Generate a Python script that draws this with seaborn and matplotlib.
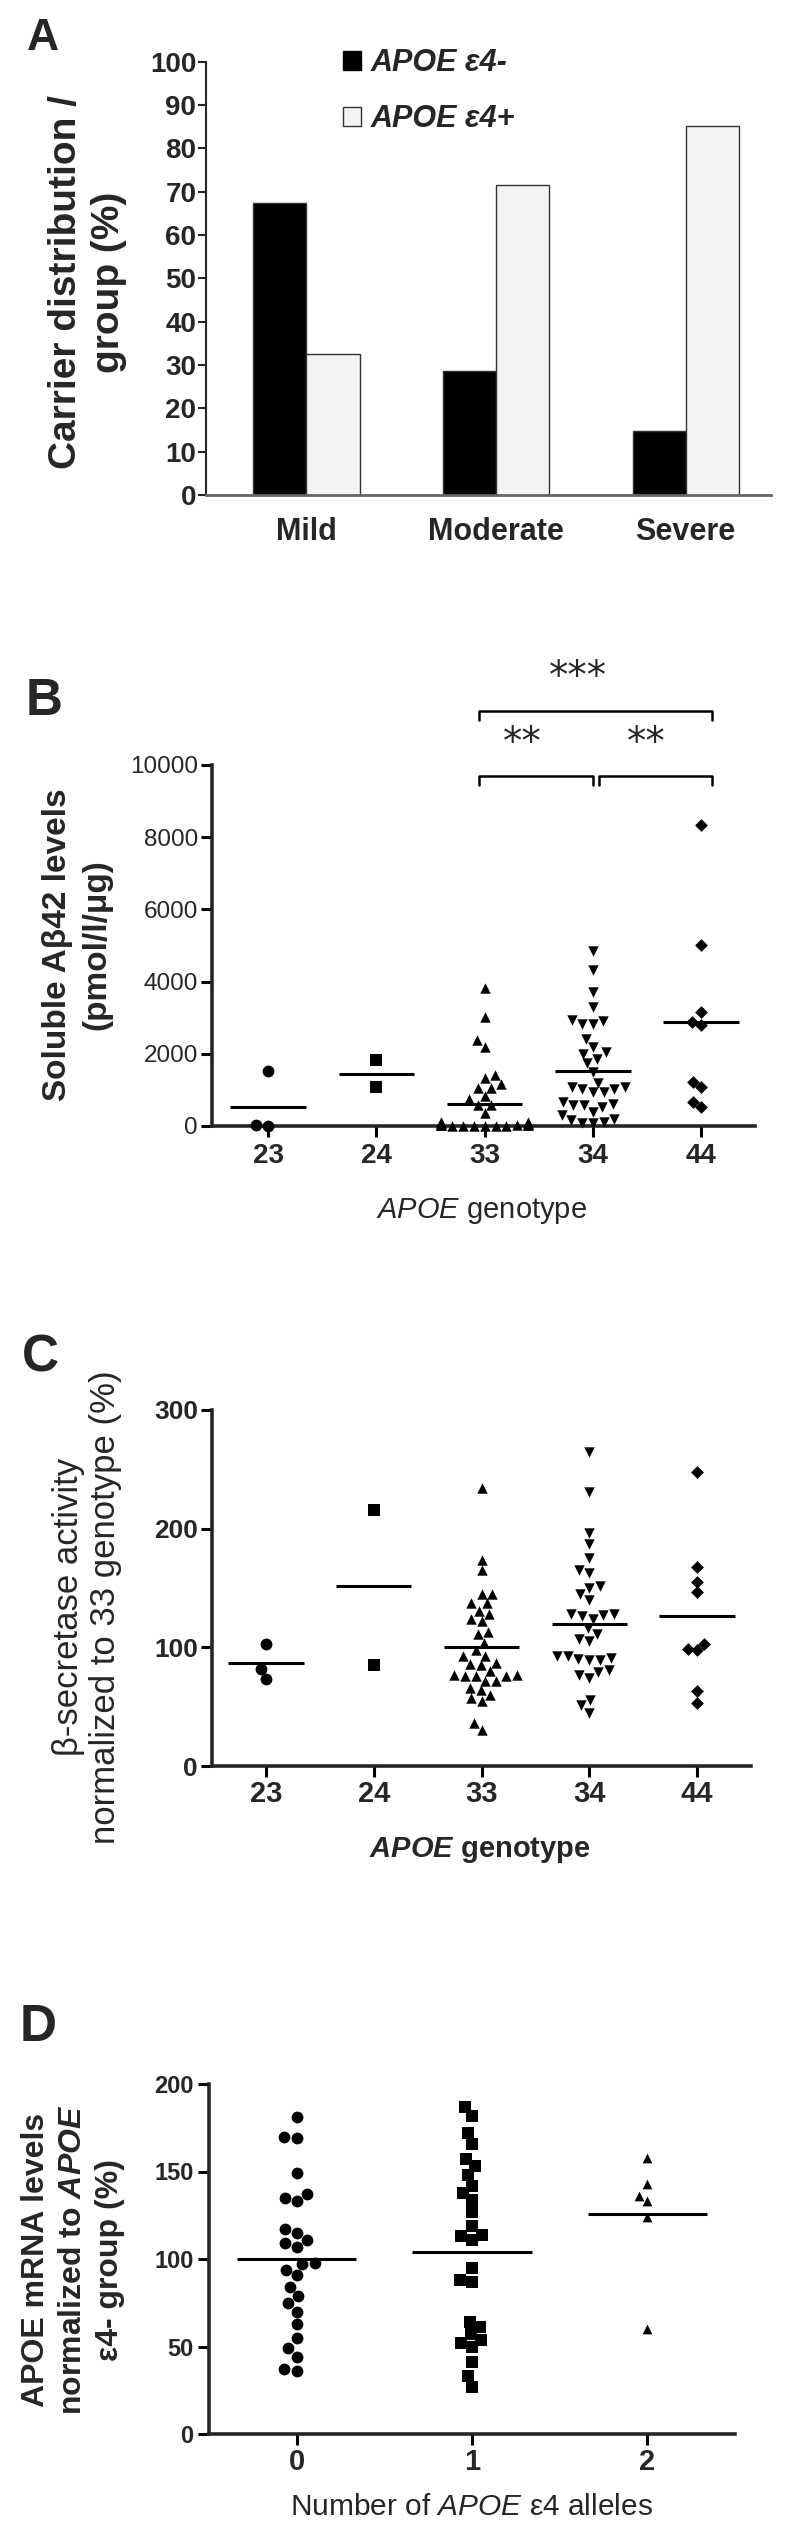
import numpy as np
import pandas as pd
import seaborn as sns
import matplotlib.pyplot as plt
from matplotlib.patches import Patch

sns.set_style('ticks')
plt.rcParams['font.family'] = ['Liberation Sans', 'DejaVu Sans']
plt.rcParams['mathtext.fontset'] = 'custom'
plt.rcParams['mathtext.rm'] = 'Liberation Sans'
plt.rcParams['mathtext.it'] = 'Liberation Sans:italic'
plt.rcParams['mathtext.bf'] = 'Liberation Sans:bold'
plt.rcParams['mathtext.bfit'] = 'Liberation Sans:italic:bold'

# --- data ---
# A: carrier distribution per severity group (%)
severity = ['Mild', 'Moderate', 'Severe']
carrier_neg = [67.4, 28.6, 14.8]
carrier_pos = [32.6, 71.4, 85.2]
carrier_labels = ['APOE ε4-', 'APOE ε4+']

# B: soluble Abeta42 per APOE genotype
genotypes = ['23', '24', '33', '34', '44']
abeta_23 = [1520, 0, 40]
abeta_24 = [1815, 1090]
abeta_33 = [3810, 3010, 2390, 2180, 1420, 1325, 1170, 1050, 1060, 820, 755, 590, 590, 360,
            120, 100, 90, 80, 70, 60, 60, 50, 40, 40, 30, 30, 20, 20, 10, 10, 0, 0, 0, 0]
abeta_34 = [4850, 4315, 3700, 3285, 2935, 2825, 2825, 2915, 2410, 2180, 2000, 2040, 1860, 1740,
            1490, 1075, 1030, 1190, 1030, 1075, 940, 940, 570, 570, 525, 660, 615, 385, 295,
            110, 200, 155, 80, 80]
abeta_44 = [8350, 5000, 3170, 2800, 2870, 1220, 1080, 670, 520]
abeta_mean = [535, 1450, 610, 1515, 2870]

# significance brackets in B
sig_left = [1.95, 1.95, 3.06]
sig_right = [4.1, 3.0, 4.1]
sig_y = [11500, 9700, 9700]
sig_text = ['***', '**', '**']
sig_text_x = [2.86, 2.35, 3.49]
sig_text_y = [12440, 10610, 10610]

# C: beta-secretase activity per genotype (%)
bsec_23 = [103, 82, 73]
bsec_24 = [216, 85]
bsec_33 = [234, 174, 165, 145, 145, 137, 137, 131, 128, 124, 122, 111, 113, 104, 98, 93, 93,
           87, 86, 85, 77, 77, 76, 80, 76, 76, 72, 72, 64, 66, 57, 55, 60, 30, 36]
bsec_34 = [265, 231, 196, 187, 175, 165, 163, 152, 150, 145, 140, 128, 127, 128, 126, 124, 116,
           111, 107, 105, 93, 91, 90, 89, 93, 89, 81, 79, 77, 74, 56, 51, 45]
bsec_44 = [248, 168, 155, 147, 99, 98, 103, 63, 53]
bsec_mean = [87, 152, 100, 120, 126]

# D: APOE mRNA per number of e4 alleles (%)
alleles = ['0', '1', '2']
mrna_0 = [181, 170, 169, 149, 135, 133, 137, 115, 117, 109, 107, 111, 97, 94, 98, 91, 84, 79,
          75, 70, 63, 55, 49, 44, 36, 37]
mrna_1 = [187, 182, 172, 166, 157, 153, 148, 142, 138, 134, 127, 119, 113, 111, 114, 95, 87,
          88, 64, 61, 57, 54, 50, 52, 41, 33, 27]
mrna_2 = [158, 143, 136, 133, 124, 60]
mrna_mean = [100, 104, 126]

W, H = 787, 2531
fig = plt.figure(figsize=(W / 100, H / 100), dpi=100)


def add_ax(left, right, top, bottom):
    return fig.add_axes([left / W, 1 - bottom / H, (right - left) / W, (bottom - top) / H])


def fig_text(x, y, s, **kw):
    fig.text(x / W, 1 - y / H, s, **kw)


def dot_panel(ax, cats, groups, markers, sizes, means, half=0.35):
    for c, vals, m, s in zip(cats, groups, markers, sizes):
        sns.swarmplot(x=[c] * len(vals), y=vals, order=cats, marker=m, size=s,
                      color='black', linewidth=0, warn_thresh=1, ax=ax, clip_on=False)
    pos = np.arange(len(cats))
    ax.hlines(means, pos - half, pos + half, color='black', lw=2.2, zorder=3)
    sns.despine(ax=ax)
    for side in ['left', 'bottom']:
        ax.spines[side].set_linewidth(2.6)
    ax.tick_params(axis='both', width=2.2, length=8, color='black')
    ax.set_xlabel('')
    ax.set_ylabel('')


# ---------------- A ----------------
axA = add_ax(206, 771, 61.5, 495)
dfA = pd.DataFrame({'group': severity * 2,
                    'pct': carrier_neg + carrier_pos,
                    'carrier': [carrier_labels[0]] * 3 + [carrier_labels[1]] * 3})
sns.barplot(data=dfA, x='group', y='pct', hue='carrier', hue_order=carrier_labels,
            palette=['black', '#f3f3f3'], width=0.56, edgecolor='#333333', linewidth=1,
            legend=False, ax=axA)
axA.set_ylim(0, 100)
axA.set_yticks(range(0, 101, 10))
axA.set_xlim(-0.53, 2.45)
sns.despine(ax=axA)
axA.spines['left'].set_linewidth(1.5)
axA.spines['bottom'].set_linewidth(2)
axA.spines['bottom'].set_color('#666666')
axA.tick_params(axis='y', length=6, width=1.5, pad=1, labelsize=20)
axA.tick_params(axis='x', length=0, pad=16, labelsize=22)
for t in axA.get_yticklabels() + axA.get_xticklabels():
    t.set_fontweight('bold')
axA.set_xlabel('')
axA.set_ylabel('')
handles = [Patch(facecolor='black', edgecolor='black'),
           Patch(facecolor='#f3f3f3', edgecolor='#333333')]
axA.legend(handles, carrier_labels, loc='upper left', bbox_to_anchor=(0.2425, 1.03),
           frameon=False, borderpad=0, borderaxespad=0, handlelength=0.6, handleheight=0.6,
           labelspacing=0.85, handletextpad=0.3,
           prop={'weight': 'bold', 'style': 'italic', 'size': 22})
fig_text(88, 282, 'Carrier distribution /\ngroup (%)', rotation=90, ha='center',
         va='center', fontsize=28, fontweight='bold', linespacing=1.25)
fig_text(27, 50, 'A', ha='left', va='baseline', fontsize=32, fontweight='bold')

# ---------------- B ----------------
axB = add_ax(212, 755, 765, 1126)
dot_panel(axB, genotypes, [abeta_23, abeta_24, abeta_33, abeta_34, abeta_44],
          ['o', 's', '^', 'v', 'D'], [8.5, 8, 7.5, 7.5, 6.5], abeta_mean)
axB.set_ylim(0, 10000)
axB.set_yticks(range(0, 10001, 2000))
axB.set_xlim(-0.52, 4.5)
axB.tick_params(axis='y', labelsize=17.5, pad=2)
axB.tick_params(axis='x', labelsize=20, pad=4)
for t in axB.get_xticklabels():
    t.set_fontweight('bold')
for l, r, y in zip(sig_left, sig_right, sig_y):
    axB.plot([l, l, r, r], [y - 250, y, y, y - 250], color='black', lw=1.8, clip_on=False)
for tx, ty, s in zip(sig_text_x, sig_text_y, sig_text):
    axB.text(tx, ty, s, ha='center', va='center', fontsize=28, family='DejaVu Sans',
             clip_on=False)
fig_text(77, 945, 'Soluble Aβ42 levels\n(pmol/l/μg)', rotation=90, ha='center', va='center',
         fontsize=24, fontweight='bold', linespacing=1.35)
fig_text(482, 1211, r'$\mathit{APOE}$ genotype', ha='center', va='center', fontsize=21)
fig_text(26, 715, 'B', ha='left', va='baseline', fontsize=37, fontweight='bold')

# ---------------- C ----------------
axC = add_ax(212, 751, 1410, 1766)
dot_panel(axC, genotypes, [bsec_23, bsec_24, bsec_33, bsec_34, bsec_44],
          ['o', 's', '^', 'v', 'D'], [8.5, 8, 7.5, 7.5, 6.5], bsec_mean)
axC.set_ylim(0, 300)
axC.set_yticks([0, 100, 200, 300])
axC.set_xlim(-0.5, 4.5)
axC.tick_params(axis='y', labelsize=19, pad=2)
axC.tick_params(axis='x', labelsize=21, pad=2)
for t in axC.get_yticklabels() + axC.get_xticklabels():
    t.set_fontweight('bold')
fig_text(87, 1607, 'β-secretase activity\nnormalized to 33 genotype (%)', rotation=90,
         ha='center', va='center', fontsize=25, linespacing=1.12)
fig_text(480, 1850, r'$\mathbfit{APOE}$ genotype', ha='center', va='center', fontsize=21,
         fontweight='bold')
fig_text(22, 1372, 'C', ha='left', va='baseline', fontsize=37, fontweight='bold')

# ---------------- D ----------------
axD = add_ax(209, 735, 2084, 2434)
dot_panel(axD, alleles, [mrna_0, mrna_1, mrna_2], ['o', 's', '^'], [8.5, 8, 7], mrna_mean,
          half=0.34)
axD.set_ylim(0, 200)
axD.set_yticks(range(0, 201, 50))
axD.set_xlim(-0.5, 2.5)
axD.tick_params(axis='y', labelsize=17, pad=3)
axD.tick_params(axis='x', labelsize=21, pad=2)
for t in axD.get_yticklabels() + axD.get_xticklabels():
    t.set_fontweight('bold')
fig_text(73, 2260, 'APOE mRNA levels\nnormalized to $\\mathbfit{APOE}$\nε4- group (%)',
         rotation=90, ha='center', va='center', fontsize=23, fontweight='bold',
         linespacing=1.3)
fig_text(471, 2507, r'Number of $\mathit{APOE}$ ε4 alleles', ha='center', va='center',
         fontsize=21.5)
fig_text(20, 2041, 'D', ha='left', va='baseline', fontsize=37, fontweight='bold')

fig.savefig('out.png', dpi=100)
